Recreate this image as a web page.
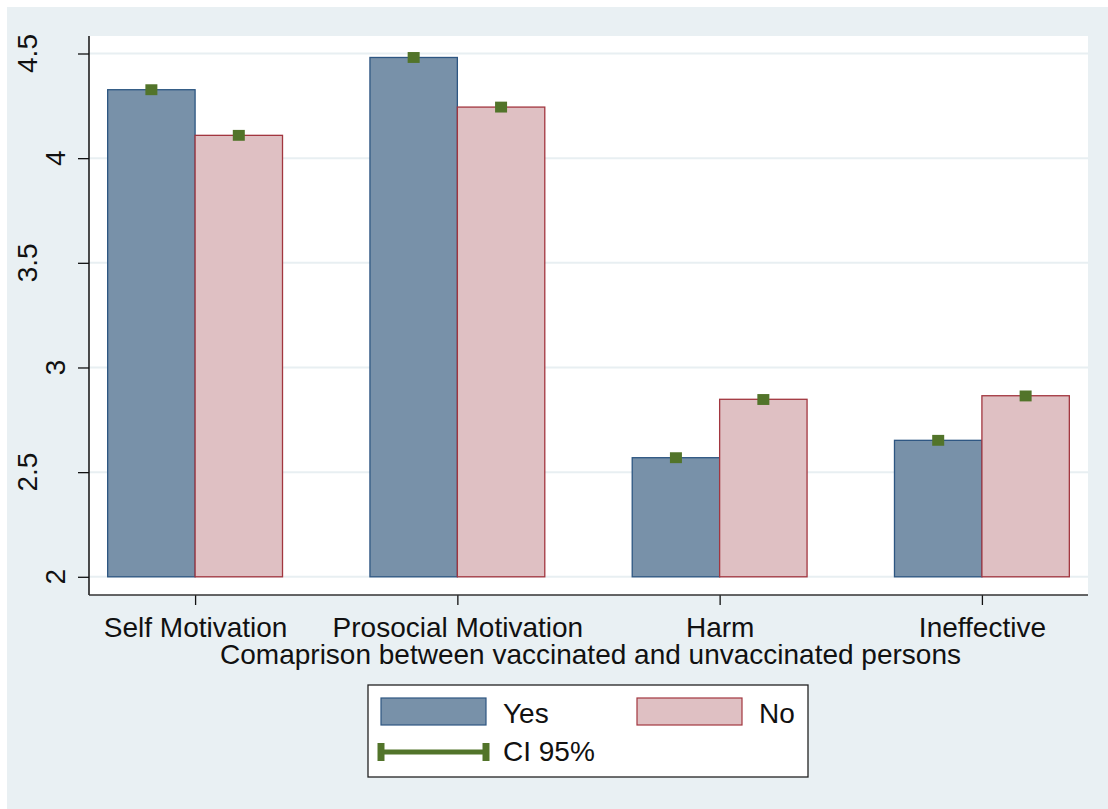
<!DOCTYPE html>
<html>
<head>
<meta charset="utf-8">
<script src="https://cdn.jsdelivr.net/npm/d3@7"></script>
<style>
    html, body { margin: 0; padding: 0; background: #ffffff; }
    svg { display: block; font-family: 'Liberation Sans', Arial, sans-serif; }
</style>
</head>
<body>
<div id="chart"></div>
<script>
// Data
const categories = ['Self Motivation', 'Prosocial Motivation', 'Harm', 'Ineffective'];
const groups = ['Yes', 'No'];
const yesValues = [4.327, 4.481, 2.569, 2.652];
const noValues = [4.109, 4.244, 2.848, 2.865];
const yesCiLow = [4.301, 4.455, 2.543, 2.626];
const yesCiHigh = [4.353, 4.507, 2.595, 2.678];
const noCiLow = [4.083, 4.218, 2.821, 2.838];
const noCiHigh = [4.135, 4.270, 2.873, 2.890];
const yTicks = [2, 2.5, 3, 3.5, 4, 4.5];
const yTickLabels = ['2', '2.5', '3', '3.5', '4', '4.5'];
const xTitle = 'Comaprison between vaccinated and unvaccinated persons';
const ciLabel = 'CI 95%';

const colors = {
    Yes: { fill: '#7891a9', stroke: '#2d5682' },
    No: { fill: '#dfc0c3', stroke: '#a2363f' },
    ci: '#52742a',
    bg: '#e9f0f3',
    grid: '#e8eff2',
};

function draw() {
    const dataset = categories.map((c, i) => ({
        category: c,
        bars: [
            { group: 'Yes', value: yesValues[i], lo: yesCiLow[i], hi: yesCiHigh[i] },
            { group: 'No', value: noValues[i], lo: noCiLow[i], hi: noCiHigh[i] },
        ],
    }));

    // Dimensions
    let dimensions = {
        width: 1108,
        height: 809,
        margin: {
            top: 36,
            bottom: 214,
            left: 89,
            right: 20,
        },
    };
    dimensions.ctrWidth = dimensions.width - dimensions.margin.left - dimensions.margin.right;
    dimensions.ctrHeight = dimensions.height - dimensions.margin.top - dimensions.margin.bottom;

    const svg = d3
        .select('#chart')
        .append('svg')
        .attr('width', dimensions.width)
        .attr('height', dimensions.height)
        ;

    // outer background (white rim on top and left, as in the original export)
    svg.append('rect')
        .attr('x', 7)
        .attr('y', 7)
        .attr('width', dimensions.width - 7)
        .attr('height', dimensions.height - 7)
        .attr('fill', colors.bg)
        ;

    const ctr = svg
        .append('g')
        .attr('transform', `translate(${dimensions.margin.left}, ${dimensions.margin.top})`)
        ;

    ctr.append('rect')
        .attr('width', dimensions.ctrWidth)
        .attr('height', dimensions.ctrHeight)
        .attr('fill', '#ffffff')
        ;

    // Scales
    const xScale = d3
        .scalePoint()
        .domain(categories)
        .range([0, dimensions.ctrWidth])
        .padding(0.4045)
        ;
    const step = xScale.step();

    const subScale = d3
        .scaleBand()
        .domain(groups)
        .range([-step / 3, step / 3])
        .padding(0)
        ;

    const yScale = d3
        .scaleLinear()
        .domain([2, 4.5])
        .range([540.8, 17.5])
        ;

    // Gridlines
    ctr.append('g')
        .selectAll('line')
        .data(yTicks)
        .join('line')
        .attr('x1', 0)
        .attr('x2', dimensions.ctrWidth)
        .attr('y1', d => yScale(d))
        .attr('y2', d => yScale(d))
        .attr('stroke', colors.grid)
        .attr('stroke-width', 2)
        ;

    // Bars
    const groupSel = ctr.append('g')
        .selectAll('g')
        .data(dataset)
        .join('g')
        .attr('transform', d => `translate(${xScale(d.category)}, 0)`)
        ;

    groupSel.selectAll('rect')
        .data(d => d.bars)
        .join('rect')
        .attr('x', d => subScale(d.group))
        .attr('y', d => yScale(d.value))
        .attr('width', subScale.bandwidth())
        .attr('height', d => yScale(2) - yScale(d.value))
        .attr('fill', d => colors[d.group].fill)
        .attr('stroke', d => colors[d.group].stroke)
        .attr('stroke-width', 1.3)
        ;

    // CI markers (very narrow intervals, drawn as thick capped bars)
    groupSel.selectAll('.ci')
        .data(d => d.bars)
        .join('rect')
        .classed('ci', true)
        .attr('x', d => subScale(d.group) + subScale.bandwidth() / 2 - 6)
        .attr('y', d => yScale(d.hi))
        .attr('width', 12)
        .attr('height', d => yScale(d.lo) - yScale(d.hi))
        .attr('fill', colors.ci)
        ;

    // Axes
    const yAxis = d3
        .axisLeft(yScale)
        .tickValues(yTicks)
        .tickSize(11)
        .tickFormat('')
        ;
    const yAxisGroup = ctr.append('g').call(yAxis);
    yAxisGroup.select('.domain').remove();
    yAxisGroup.selectAll('.tick line').attr('stroke', '#111').attr('stroke-width', 1.3);
    yAxisGroup.append('line')
        .attr('x1', 0).attr('x2', 0)
        .attr('y1', 0).attr('y2', dimensions.ctrHeight)
        .attr('stroke', '#111')
        .attr('stroke-width', 1.5)
        ;

    yAxisGroup.selectAll('.ylab')
        .data(yTicks)
        .join('text')
        .classed('ylab', true)
        .attr('transform', (d, i) => {
            const bx = (yTickLabels[i].length > 1 ? 37 : 65) - dimensions.margin.left;
            return `translate(${bx}, ${yScale(d)}) rotate(-90)`;
        })
        .attr('text-anchor', 'middle')
        .attr('font-size', 28)
        .attr('fill', '#111')
        .text((d, i) => yTickLabels[i])
        ;

    const xAxis = d3
        .axisBottom(xScale)
        .tickSize(10)
        .tickPadding(13)
        ;
    const xAxisGroup = ctr.append('g')
        .attr('transform', `translate(0, ${dimensions.ctrHeight})`)
        .call(xAxis)
        ;
    xAxisGroup.select('.domain').remove();
    xAxisGroup.append('line')
        .attr('x1', 0).attr('x2', dimensions.ctrWidth)
        .attr('stroke', '#333')
        .attr('stroke-width', 1.6)
        ;
    xAxisGroup.selectAll('.tick line').attr('stroke', '#111').attr('stroke-width', 1.3);
    xAxisGroup.selectAll('.tick text')
        .attr('font-size', 28)
        .attr('font-family', "'Liberation Sans', Arial, sans-serif")
        .attr('fill', '#111')
        .attr('dy', 0)
        .attr('y', 42)
        ;

    xAxisGroup.append('text')
        .attr('x', dimensions.ctrWidth / 2 + 2)
        .attr('y', 69)
        .attr('text-anchor', 'middle')
        .attr('font-size', 28)
        .attr('fill', '#111')
        .text(xTitle)
        ;

    // Legend
    const legend = svg.append('g').attr('transform', 'translate(368, 685)');
    legend.append('rect')
        .attr('width', 440)
        .attr('height', 92)
        .attr('fill', '#ffffff')
        .attr('stroke', '#222')
        .attr('stroke-width', 1.3)
        ;

    const legendItems = [
        { group: 'Yes', x: 13 },
        { group: 'No', x: 269 },
    ];
    legend.selectAll('.sw')
        .data(legendItems)
        .join('rect')
        .classed('sw', true)
        .attr('x', d => d.x)
        .attr('y', 13)
        .attr('width', 105)
        .attr('height', 27)
        .attr('fill', d => colors[d.group].fill)
        .attr('stroke', d => colors[d.group].stroke)
        .attr('stroke-width', 1.2)
        ;
    legend.selectAll('.lt')
        .data(legendItems)
        .join('text')
        .classed('lt', true)
        .attr('x', d => d.x + 122)
        .attr('y', 38)
        .attr('font-size', 28)
        .attr('fill', '#111')
        .text(d => d.group)
        ;

    const ciG = legend.append('g').attr('stroke', colors.ci);
    ciG.append('line')
        .attr('x1', 13).attr('x2', 118)
        .attr('y1', 67).attr('y2', 67)
        .attr('stroke-width', 5)
        ;
    ciG.selectAll('.cap')
        .data([13, 118])
        .join('line')
        .classed('cap', true)
        .attr('x1', d => d).attr('x2', d => d)
        .attr('y1', 58).attr('y2', 76)
        .attr('stroke-width', 7)
        ;
    legend.append('text')
        .attr('x', 135)
        .attr('y', 76)
        .attr('font-size', 28)
        .attr('fill', '#111')
        .text(ciLabel)
        ;
}

draw();
</script>
</body>
</html>
